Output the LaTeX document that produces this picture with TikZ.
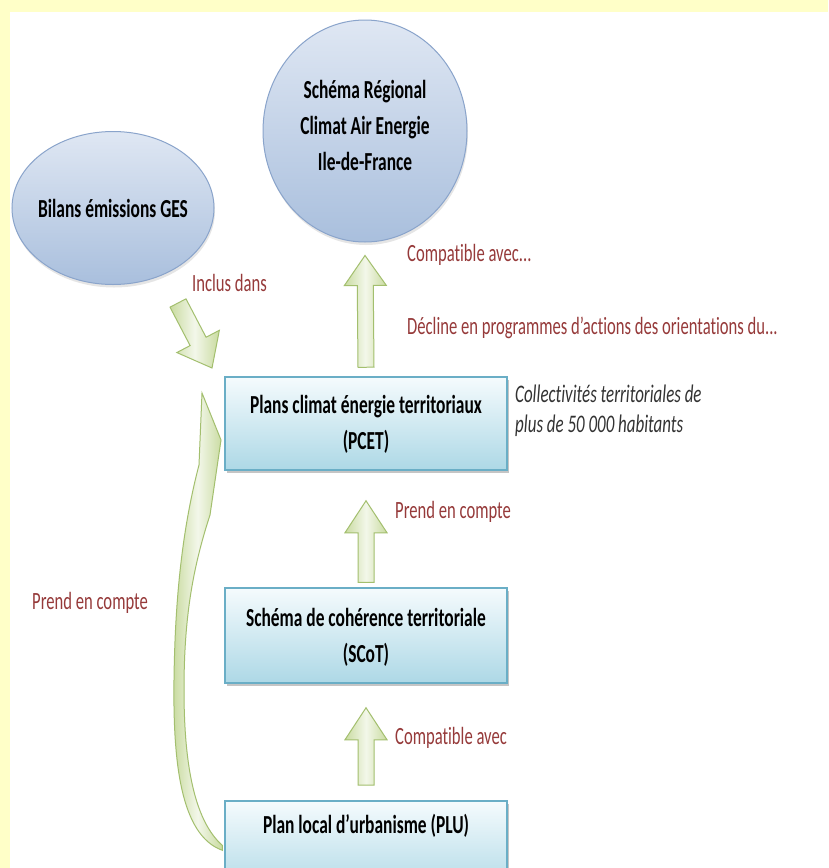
\documentclass[tikz,border=0pt]{standalone}
\usepackage{fontspec}
\setmainfont{Carlito}[FakeStretch=0.67, Ligatures=NoCommon]
\usetikzlibrary{shapes.geometric,calc,shadows}
\definecolor{bgyellow}{HTML}{FFFFC8}
\definecolor{redtxt}{HTML}{963A3A}
\definecolor{graytxt}{HTML}{333333}
\definecolor{elltop}{HTML}{DFE7F3}
\definecolor{ellbot}{HTML}{A9BFDD}
\definecolor{elldraw}{HTML}{8AA4CB}
\definecolor{boxtop}{HTML}{F5FBFD}
\definecolor{boxbot}{HTML}{ADD8E6}
\definecolor{boxdraw}{HTML}{6AAEC6}
\definecolor{arrdraw}{HTML}{A3BF6E}
\definecolor{arrA}{HTML}{C9DBA0}
\definecolor{arrB}{HTML}{F3F7EA}
\tikzset{
  bubble/.style={ellipse, draw=elldraw, line width=1pt, top color=elltop, bottom color=ellbot,
    inner sep=0pt, drop shadow={opacity=0.2, shadow xshift=1pt, shadow yshift=-3pt}},
  stage/.style={rectangle, draw=boxdraw, line width=1.5pt, top color=boxtop, bottom color=boxbot,
    minimum width=282pt, inner sep=0pt, drop shadow={opacity=0.45, shadow xshift=1.5pt, shadow yshift=-3pt}},
  maintext/.style={font=\fontsize{26}{36}\selectfont\bfseries, align=center, inner sep=0pt},
  reltext/.style={font=\fontsize{24.8}{28}\selectfont, text=redtxt, anchor=west, inner sep=0pt},
  notetext/.style={font=\fontsize{25.3}{32}\selectfont\itshape, text=graytxt, anchor=west, inner sep=0pt},
  blockarr/.style={draw=arrdraw, line width=1pt, left color=arrA, right color=arrA, middle color=arrB, line join=miter},
}
\newcommand{\bigarrow}[5]{%
  \coordinate (#1-b) at ($(#2)!#5!(#1)$);
  \path[blockarr] ($(#1)!#3!90:(#2)$) -- ($(#1-b)!#3!-90:(#1)$) -- ($(#1-b)!#4!-90:(#1)$) -- (#2)
    -- ($(#1-b)!#4!90:(#1)$) -- ($(#1-b)!#3!90:(#1)$) -- ($(#1)!#3!-90:(#2)$) -- cycle;
}
\begin{document}
\begin{tikzpicture}[x=1pt,y=-1pt]
\useasboundingbox (0,0) rectangle (828,868);
\fill[bgyellow] (0,0) rectangle (828,868);
\fill[white] (10,12) rectangle (828,868);

% ellipses
\node[bubble, minimum width=204pt, minimum height=222pt] (srcae) at (365,131) {};
\node[maintext] (srcaet) at (365,125) {Schéma Régional\\Climat Air Energie\\Ile-de-France};
\node[bubble, minimum width=202pt, minimum height=153pt] (ges) at (113,208) {};
\node[maintext] (gest) at (113,208) {Bilans émissions GES};

% boxes
\node[stage, minimum height=93pt] (pcet) at (366,423.5) {};
\node[maintext] (pcett) at (366,424) {Plans climat énergie territoriaux\\(PCET)};
\node[stage, minimum height=95pt] (scot) at (366,635.5) {};
\node[maintext] (scott) at (366,637) {Schéma de cohérence territoriale\\(SCoT)};
\node[stage, minimum height=95pt, anchor=north] (plu) at (366,800) {};
\node[maintext] (plut) at (366,826) {Plan local d’urbanisme (PLU)};

% labels
\node[reltext] (t1) at (407,255) {Compatible avec...};
\node[reltext] (t2) at (192,283) {Inclus dans};
\node[reltext] (t3) at (407,328) {Décline en programmes d’actions des orientations du...};
\node[notetext] (t4) at (515,394) {Collectivités territoriales de};
\node[notetext] (t5) at (515,426) {plus de 50 000 habitants};
\node[reltext] (t6) at (395,512) {Prend en compte};
\node[reltext] (t7) at (395,738) {Compatible avec};
\node[reltext] (t8) at (32,603) {Prend en compte};

% straight block arrows
\coordinate (a1t) at ([yshift=9pt]pcet.north);
\coordinate (a1h) at ([yshift=-13pt]srcae.south);
\bigarrow{a1t}{a1h}{8pt}{21pt}{30pt}
\coordinate (a2t) at ([yshift=5pt]scot.north);
\coordinate (a2h) at ([yshift=-30pt]pcet.south);
\bigarrow{a2t}{a2h}{8pt}{21pt}{32pt}
\coordinate (a3t) at ([yshift=15pt]plu.north);
\coordinate (a3h) at ([yshift=-24pt]scot.south);
\bigarrow{a3t}{a3h}{8pt}{21pt}{32pt}
\coordinate (a4t) at (178,303);
\coordinate (a4h) at (212,368);
\bigarrow{a4t}{a4h}{9pt}{24pt}{30pt}

% curved arrow from PLU to PCET
\coordinate (c0) at (plu.west);
\coordinate (ctip) at (202,393);
\path[blockarr] ([xshift=-2pt,yshift=-2pt]c0) .. controls (180,835) and (173,760) .. (174,680)
  .. controls (175,600) and (182,530) .. (199,465) -- (ctip) -- (221,440) -- (210,515)
  .. controls (192,570) and (184,620) .. (184,690)
  .. controls (184,770) and (196,822) .. ([xshift=-2pt,yshift=3pt]c0) -- cycle;
\end{tikzpicture}
\end{document}
